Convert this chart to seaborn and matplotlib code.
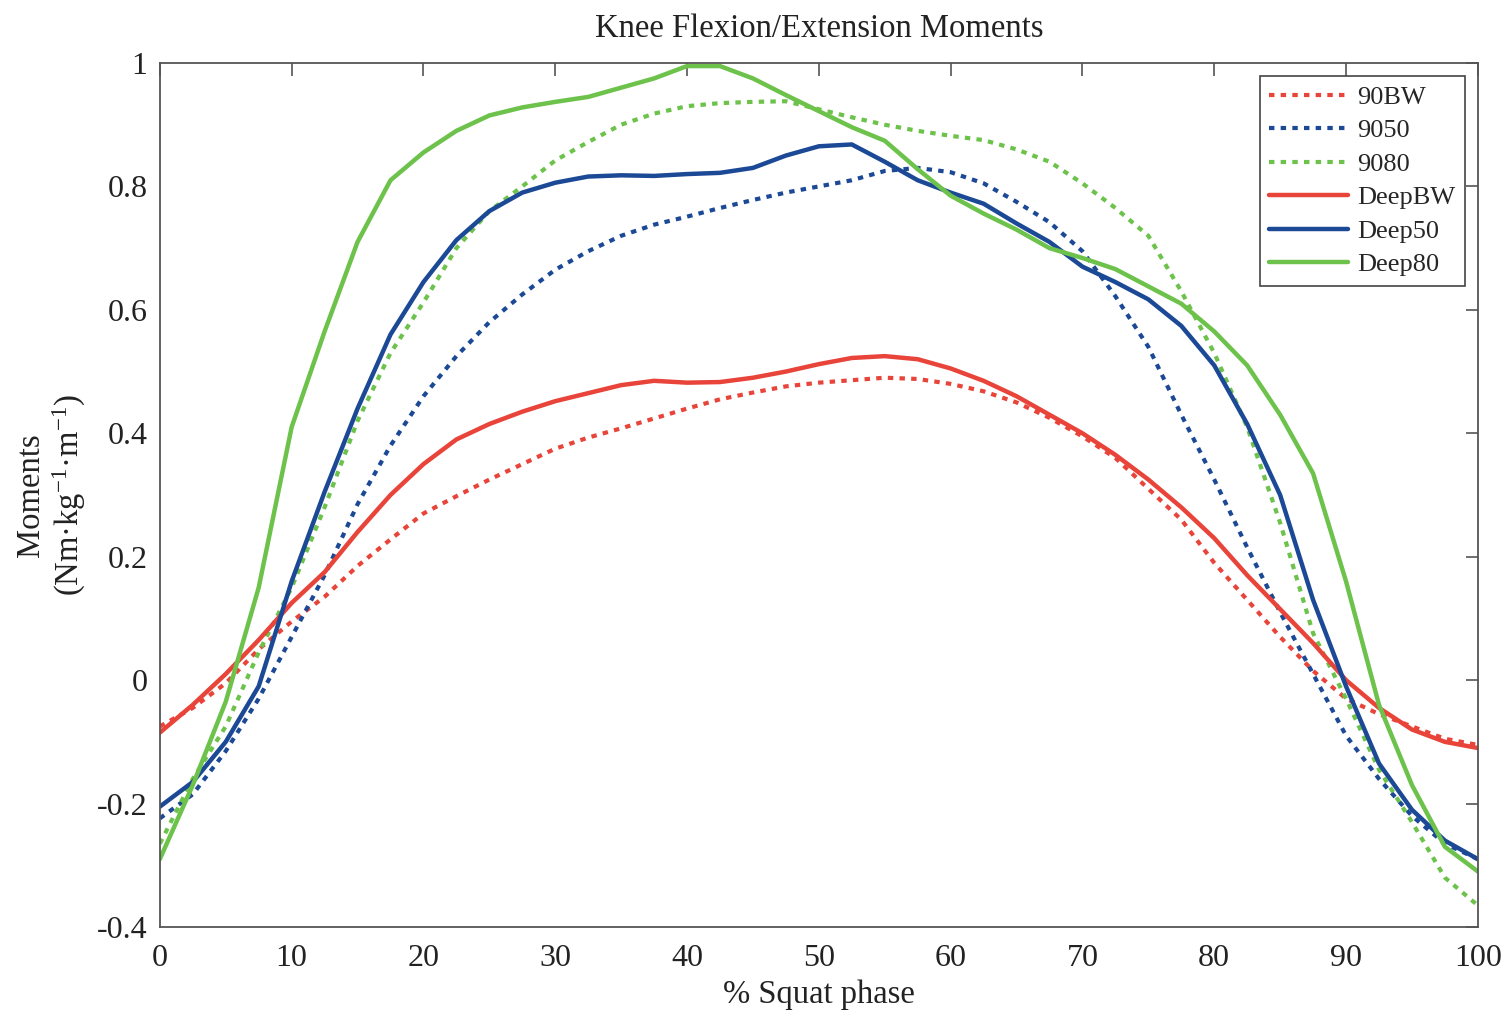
import numpy as np
import pandas as pd
import matplotlib
matplotlib.use("Agg")
import matplotlib.pyplot as plt
import seaborn as sns

# ---------------- data ----------------
phase = [0, 2.5, 5, 7.5, 10, 12.5, 15, 17.5, 20, 22.5, 25, 27.5, 30, 32.5, 35, 37.5,
         40, 42.5, 45, 47.5, 50, 52.5, 55, 57.5, 60, 62.5, 65, 67.5, 70, 72.5, 75,
         77.5, 80, 82.5, 85, 87.5, 90, 92.5, 95, 97.5, 100]

s90BW = [-0.075, -0.045, -0.005, 0.05, 0.095, 0.135, 0.185, 0.228, 0.27, 0.298, 0.325,
         0.35, 0.375, 0.393, 0.408, 0.424, 0.44, 0.455, 0.466, 0.476, 0.482, 0.486,
         0.49, 0.488, 0.48, 0.468, 0.45, 0.425, 0.395, 0.36, 0.31, 0.26, 0.19, 0.13,
         0.07, 0.015, -0.03, -0.055, -0.075, -0.095, -0.105]

s9050 = [-0.224, -0.185, -0.115, -0.03, 0.07, 0.17, 0.285, 0.38, 0.46, 0.525, 0.58,
         0.625, 0.665, 0.695, 0.72, 0.738, 0.751, 0.765, 0.778, 0.79, 0.80, 0.81,
         0.825, 0.83, 0.823, 0.805, 0.775, 0.742, 0.695, 0.622, 0.54, 0.43, 0.325,
         0.215, 0.11, 0.01, -0.09, -0.16, -0.22, -0.265, -0.29]

s9080 = [-0.265, -0.16, -0.075, 0.045, 0.15, 0.28, 0.42, 0.53, 0.612, 0.70, 0.76,
         0.80, 0.842, 0.872, 0.90, 0.918, 0.93, 0.935, 0.937, 0.938, 0.925, 0.912,
         0.90, 0.89, 0.882, 0.875, 0.86, 0.84, 0.805, 0.765, 0.72, 0.63, 0.53, 0.41,
         0.255, 0.076, -0.03, -0.145, -0.23, -0.32, -0.365]

sDeepBW = [-0.085, -0.04, 0.01, 0.065, 0.125, 0.175, 0.24, 0.30, 0.35, 0.39, 0.415,
           0.435, 0.452, 0.465, 0.478, 0.485, 0.482, 0.483, 0.49, 0.50, 0.512, 0.522,
           0.525, 0.52, 0.505, 0.485, 0.46, 0.43, 0.40, 0.365, 0.325, 0.28, 0.23,
           0.17, 0.115, 0.06, 0.0, -0.045, -0.08, -0.10, -0.11]

sDeep50 = [-0.205, -0.165, -0.10, -0.01, 0.16, 0.305, 0.44, 0.56, 0.645, 0.713, 0.76,
           0.79, 0.806, 0.816, 0.818, 0.817, 0.82, 0.822, 0.83, 0.85, 0.865, 0.868,
           0.84, 0.81, 0.79, 0.772, 0.74, 0.71, 0.67, 0.645, 0.617, 0.574, 0.51,
           0.415, 0.30, 0.13, -0.01, -0.135, -0.21, -0.26, -0.29]

sDeep80 = [-0.29, -0.17, -0.035, 0.15, 0.41, 0.565, 0.71, 0.81, 0.855, 0.89, 0.915,
           0.928, 0.937, 0.945, 0.96, 0.975, 0.995, 0.995, 0.975, 0.948, 0.922, 0.896,
           0.874, 0.828, 0.785, 0.756, 0.73, 0.70, 0.684, 0.666, 0.638, 0.61, 0.565,
           0.51, 0.43, 0.335, 0.16, -0.04, -0.17, -0.27, -0.31]

series_names = ["90BW", "9050", "9080", "DeepBW", "Deep50", "Deep80"]
series_vals = [s90BW, s9050, s9080, sDeepBW, sDeep50, sDeep80]

xticks = [0, 10, 20, 30, 40, 50, 60, 70, 80, 90, 100]
yticks = [-0.4, -0.2, 0, 0.2, 0.4, 0.6, 0.8, 1]
ytick_labels = ["-0.4", "-0.2", "0", "0.2", "0.4", "0.6", "0.8", "1"]

# ---------------- style ----------------
sns.set_style("white")
plt.rcParams["font.family"] = ["Liberation Serif", "DejaVu Serif"]
plt.rcParams["mathtext.fontset"] = "custom"
plt.rcParams["mathtext.rm"] = "Liberation Serif"
plt.rcParams["mathtext.it"] = "Liberation Serif:italic"
plt.rcParams["axes.unicode_minus"] = False

red = "#e8443a"
blue = "#1c4996"
green = "#6cc24a"
colors = [red, blue, green, red, blue, green]
dotted = (0, (1.3, 1.5))
styles = [dotted, dotted, dotted, "-", "-", "-"]
widths = [3.0, 3.0, 3.0, 3.2, 3.2, 3.2]

fig = plt.figure(figsize=(15.08, 10.11), dpi=100)
ax = fig.add_axes([0.106, 0.0831, 0.874, 0.8546])

for name, vals, c, ls, lw in zip(series_names, series_vals, colors, styles, widths):
    df = pd.DataFrame({"phase": phase, "moment": vals})
    sns.lineplot(data=df, x="phase", y="moment", ax=ax, color=c, linestyle=ls,
                 linewidth=lw, label=name)

ax.set_xlim(0, 100)
ax.set_ylim(-0.4, 1)
ax.set_xticks(xticks)
ax.set_xticklabels([str(t) for t in xticks])
ax.set_yticks(yticks)
ax.set_yticklabels(ytick_labels)

for sp in ax.spines.values():
    sp.set_visible(True)
    sp.set_color("#555555")
    sp.set_linewidth(1.3)

ax.tick_params(axis="both", which="major", direction="in", length=9, width=1.2,
               color="#555555", top=True, right=True, labelsize=23,
               labelcolor="#222222")
ax.tick_params(axis="x", pad=12)
ax.tick_params(axis="y", pad=9)

ax.set_title("Knee Flexion/Extension Moments", fontsize=23.5, pad=19, color="#222222")
ax.set_xlabel("% Squat phase", fontsize=23.5, labelpad=5, color="#222222")
ax.set_ylabel("Moments\n(Nm·kg$^{-1}$·m$^{-1}$)", fontsize=23.5, labelpad=6,
              color="#222222", linespacing=1.2)

leg = ax.legend(loc="upper right", fontsize=19, frameon=True, fancybox=False,
                framealpha=1, edgecolor="#444444", handlelength=3.0,
                handletextpad=0.35, labelspacing=0.38, borderpad=0.35,
                borderaxespad=0.5)
leg.get_frame().set_linewidth(1.2)

fig.savefig("out.png", dpi=100, facecolor="white")
